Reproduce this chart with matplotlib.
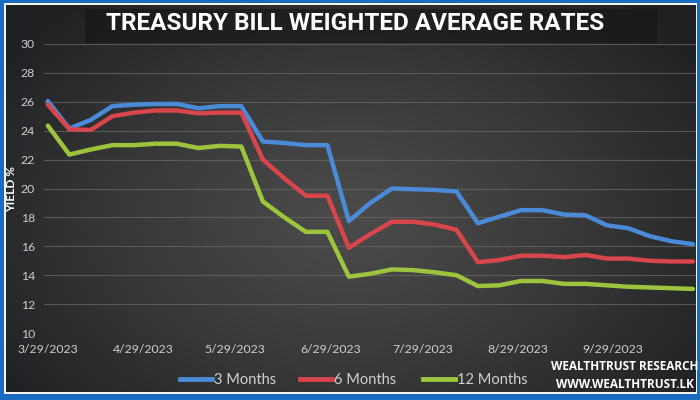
import numpy as np
import pandas as pd
import matplotlib
matplotlib.use("Agg")
import matplotlib.pyplot as plt
from matplotlib.patches import Rectangle
from matplotlib.lines import Line2D

dates = ["2023-03-29", "2023-04-05", "2023-04-12", "2023-04-19", "2023-04-26",
         "2023-05-03", "2023-05-10", "2023-05-17", "2023-05-24", "2023-05-31",
         "2023-06-07", "2023-06-14", "2023-06-21", "2023-06-28", "2023-07-05",
         "2023-07-12", "2023-07-19", "2023-07-26", "2023-08-02", "2023-08-09",
         "2023-08-16", "2023-08-23", "2023-08-30", "2023-09-06", "2023-09-13",
         "2023-09-20", "2023-09-27", "2023-10-04", "2023-10-11", "2023-10-18",
         "2023-10-25"]
m3 = [26.05, 24.15, 24.75, 25.70, 25.80, 25.85, 25.85, 25.55, 25.70, 25.70,
      23.25, 23.15, 23.00, 23.00, 17.75, 19.00, 20.00, 19.95, 19.90, 19.80,
      17.60, 18.05, 18.50, 18.50, 18.20, 18.15, 17.45, 17.25, 16.70, 16.35,
      16.15]
m6 = [25.80, 24.10, 24.05, 25.00, 25.25, 25.40, 25.40, 25.20, 25.25, 25.25,
      22.00, 20.70, 19.50, 19.50, 15.90, 16.85, 17.70, 17.70, 17.50, 17.15,
      14.90, 15.05, 15.35, 15.35, 15.25, 15.40, 15.15, 15.15, 15.00, 14.95,
      14.95]
m12 = [24.35, 22.35, 22.70, 23.00, 23.00, 23.10, 23.10, 22.80, 22.95, 22.90,
       19.10, 18.00, 17.00, 17.00, 13.90, 14.10, 14.40, 14.35, 14.20, 14.00,
       13.25, 13.30, 13.60, 13.60, 13.40, 13.40, 13.30, 13.20, 13.15, 13.10,
       13.05]
series_names = ["3 Months", "6 Months", "12 Months"]
series_colors = ["#4a8ad6", "#d8454b", "#9cc43c"]
tick_dates = ["2023-03-29", "2023-04-29", "2023-05-29", "2023-06-29",
              "2023-07-29", "2023-08-29", "2023-09-29"]
tick_labels = ["3/29/2023", "4/29/2023", "5/29/2023", "6/29/2023",
               "7/29/2023", "8/29/2023", "9/29/2023"]
yticks = [10, 12, 14, 16, 18, 20, 22, 24, 26, 28, 30]

W, H = 700, 400
fig = plt.figure(figsize=(7, 4), dpi=100)
fig.patch.set_facecolor("#1a6cc0")

def px(x0, y0, x1, y1):
    # pixel box (top-left origin) -> figure fraction rect
    return [x0 / W, 1 - y1 / H, (x1 - x0) / W, (y1 - y0) / H]

# white inner frame
fig.add_artist(Rectangle((4 / W, 1 - 394 / H), (697 - 4) / W, (394 - 3) / H,
                         transform=fig.transFigure, facecolor="#f4f4f4",
                         edgecolor="none", zorder=0))
# dark gradient background
bg = fig.add_axes(px(6, 5, 696, 392), zorder=0)
ny, nx = 200, 350
yy, xx = np.mgrid[0:ny, 0:nx]
cx, cy = nx * 0.5, ny * 0.55
r = np.sqrt(((xx - cx) / (nx * 0.62)) ** 2 + ((yy - cy) / (ny * 0.75)) ** 2)
r = np.clip(r, 0, 1)
light = np.array([0x4a, 0x4a, 0x4a]) / 255
dark = np.array([0x1f, 0x20, 0x21]) / 255
w = r[..., None] ** 1.3
img = light[None, None, :] * (1 - w) + dark[None, None, :] * w
bg.imshow(img, aspect="auto", extent=[0, 1, 0, 1], interpolation="bicubic")
bg.set_axis_off()
bg.set_xlim(0, 1)
bg.set_ylim(0, 1)
# title band
bg.add_patch(Rectangle((79 / 690, 1 - 38 / 387), 572 / 690, 34 / 387,
                       transform=bg.transAxes, facecolor="#151515",
                       alpha=0.6, edgecolor="none"))

ax = fig.add_axes(px(44, 44, 696, 333), zorder=2)
ax.patch.set_alpha(0)
x = pd.to_datetime(dates)
for vals, name, col in zip([m3, m6, m12], series_names, series_colors):
    ax.plot(x, vals, color=col, lw=3.2, solid_joinstyle="round",
            solid_capstyle="round", label=name)
ax.set_ylim(10, 30)
ax.set_yticks(yticks)
ax.set_xlim(pd.Timestamp("2023-03-27 18:00"), pd.Timestamp("2023-10-26"))
ax.set_xticks(pd.to_datetime(tick_dates))
ax.set_xticklabels(tick_labels)
ax.grid(axis="y", color="#6a6a6a", lw=0.8, alpha=0.7)
ax.set_axisbelow(True)
for s in ax.spines.values():
    s.set_visible(False)
ax.tick_params(length=0, colors="#cfcfcf", labelsize=8.8)
for t in ax.get_xticklabels() + ax.get_yticklabels():
    t.set_fontfamily("Lato")
ax.tick_params(axis="y", pad=6.5)
ax.tick_params(axis="x", pad=8)
ax.set_ylabel("YIELD %", color="white", fontsize=8.5, fontweight="bold",
              fontfamily="Lato")
ax.yaxis.set_label_coords(-0.042, 0.5)

fig.text(355 / W, 1 - 23 / H, "TREASURY BILL WEIGHTED AVERAGE RATES",
         ha="center", va="center", color="white", fontsize=17.5,
         fontweight="bold", family="Roboto", zorder=5)

# legend: one entry per series, placed at the reference positions
leg_left = [180, 300, 423]
for name, col, lx in zip(series_names, series_colors, leg_left):
    lg = fig.legend([Line2D([0], [0], color=col, lw=3.5)], [name],
                    loc="center left", bbox_to_anchor=(lx / W, 1 - 380 / H),
                    frameon=False, borderpad=0, borderaxespad=0,
                    handlelength=2.2, handletextpad=0.1,
                    prop={"family": "Lato", "size": 10.5})
    for t in lg.get_texts():
        t.set_color("#d0d0d0")

fig.text(625 / W, 1 - 367 / H, "WEALTHTRUST RESEARCH", ha="center",
         va="center", color="white", fontsize=8.5, fontweight="bold",
         family="Open Sans", zorder=5)
fig.text(625 / W, 1 - 385 / H, "WWW.WEALTHTRUST.LK", ha="center",
         va="center", color="white", fontsize=8.5, fontweight="bold",
         family="Open Sans", zorder=5)

fig.savefig("out.png", dpi=100, facecolor=fig.get_facecolor())
